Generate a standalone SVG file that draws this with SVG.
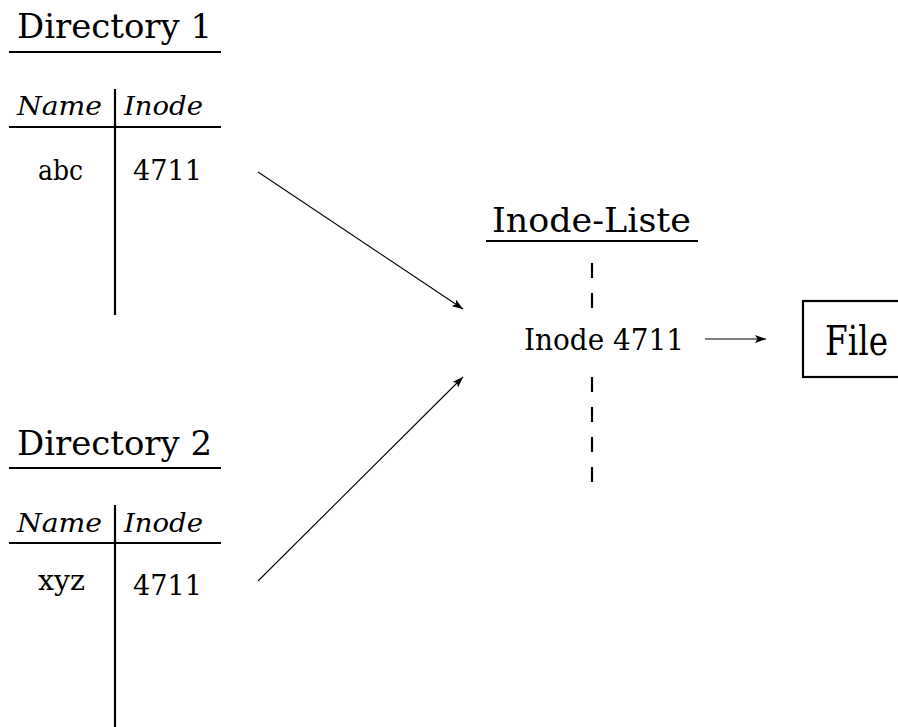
<svg xmlns="http://www.w3.org/2000/svg" width="898" height="727" viewBox="0 0 898 727">
<style>
text{font-family:"DejaVu Serif","Liberation Serif",serif;fill:#000}
.h{font-size:33px}
.it{font-size:26px;font-style:italic}
.c{font-size:27px}
.rule{stroke:#000;stroke-width:2.2;fill:none}
.conn{stroke:#000;stroke-width:1.1;fill:none;marker-end:url(#ah)}
.dash{stroke:#000;stroke-width:2.2}
</style>
<defs>
<marker id="ah" markerUnits="userSpaceOnUse" markerWidth="12" markerHeight="8" refX="11" refY="4" orient="auto">
<path d="M0,0 L11,4 L0,8 L2.5,4 Z" fill="#000"/>
</marker>
</defs>
<rect width="898" height="727" fill="#fff"/>
<g id="directory1">
<text class="h" x="17" y="38" textLength="195" lengthAdjust="spacingAndGlyphs">Directory 1</text>
<line class="rule" x1="9" y1="52" x2="221" y2="52"/>
<text class="it" x="17" y="115" textLength="85" lengthAdjust="spacingAndGlyphs">Name</text>
<text class="it" x="124" y="115" textLength="79" lengthAdjust="spacingAndGlyphs">Inode</text>
<line class="rule" x1="9" y1="127" x2="221" y2="127"/>
<line class="rule" x1="115" y1="89" x2="115" y2="315"/>
<text class="c" x="38" y="180" textLength="45" lengthAdjust="spacingAndGlyphs">abc</text>
<text class="c" x="133" y="180" textLength="69" lengthAdjust="spacingAndGlyphs">4711</text>
</g>
<g id="directory2">
<text class="h" x="17" y="455" textLength="195" lengthAdjust="spacingAndGlyphs">Directory 2</text>
<line class="rule" x1="9" y1="468" x2="221" y2="468"/>
<text class="it" x="17" y="532" textLength="85" lengthAdjust="spacingAndGlyphs">Name</text>
<text class="it" x="124" y="532" textLength="79" lengthAdjust="spacingAndGlyphs">Inode</text>
<line class="rule" x1="9" y1="543" x2="221" y2="543"/>
<line class="rule" x1="115" y1="505" x2="115" y2="727"/>
<text class="c" x="38" y="590" textLength="47" lengthAdjust="spacingAndGlyphs">xyz</text>
<text class="c" x="133" y="595" textLength="69" lengthAdjust="spacingAndGlyphs">4711</text>
</g>
<g id="inode-liste">
<text class="h" x="492" y="232" textLength="199" lengthAdjust="spacingAndGlyphs">Inode-Liste</text>
<line class="rule" x1="486" y1="241" x2="698" y2="241"/>
<line class="dash" x1="592" y1="263" x2="592" y2="278"/>
<line class="dash" x1="592" y1="293" x2="592" y2="308"/>
<line class="dash" x1="592" y1="377" x2="592" y2="392"/>
<line class="dash" x1="592" y1="407" x2="592" y2="422"/>
<line class="dash" x1="592" y1="437" x2="592" y2="452"/>
<line class="dash" x1="592" y1="467" x2="592" y2="482"/>
<text style="font-size:29px" x="524" y="350" textLength="160" lengthAdjust="spacingAndGlyphs">Inode 4711</text>
</g>
<g id="file">
<rect class="rule" x="803" y="301" width="98" height="76"/>
<text style="font-size:41px" x="825" y="355" textLength="63" lengthAdjust="spacingAndGlyphs">File</text>
</g>
<g id="connectors">
<line class="conn" x1="258" y1="172" x2="463" y2="309"/>
<line class="conn" x1="258" y1="581" x2="463" y2="377"/>
<line class="conn" x1="705" y1="339" x2="766" y2="339"/>
</g>
</svg>
